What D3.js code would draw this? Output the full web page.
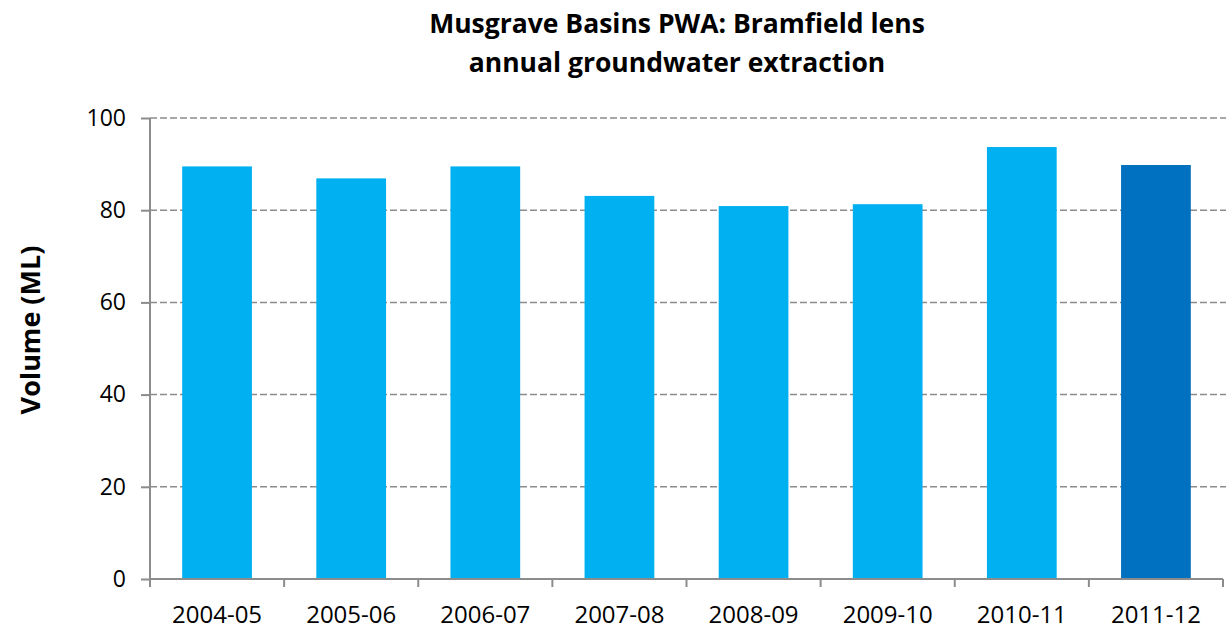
<!DOCTYPE html>
<html>
<head>
<meta charset="utf-8">
<script src="https://cdn.jsdelivr.net/npm/d3@7"></script>
<style>
  body { margin: 0; background: #fff; }
  svg { font-family: "Open Sans", sans-serif; }
</style>
</head>
<body>
<svg id="chart" width="1226" height="630"></svg>
<script>
const categories = ["2004-05", "2005-06", "2006-07", "2007-08", "2008-09", "2009-10", "2010-11", "2011-12"];
const volumes = [89.5, 86.9, 89.5, 83.1, 80.9, 81.3, 93.7, 89.8];
const yTicks = [0, 20, 40, 60, 80, 100];
const titleLines = ["Musgrave Basins PWA: Bramfield lens", "annual groundwater extraction"];

const margin = { top: 118, right: 3, bottom: 51, left: 150 };
const width = 1226, height = 630;

const svg = d3.select("#chart");

const x = d3.scaleBand()
  .domain(categories)
  .range([margin.left, width - margin.right])
  .padding(0);

const y = d3.scaleLinear()
  .domain([0, 100])
  .range([height - margin.bottom, margin.top]);

// dashed gridlines
svg.append("g")
  .selectAll("line")
  .data(yTicks.filter(d => d > 0))
  .join("line")
  .attr("x1", margin.left)
  .attr("x2", width)
  .attr("y1", d => y(d))
  .attr("y2", d => y(d))
  .attr("stroke", "#8c8c8c")
  .attr("stroke-width", 1.5)
  .attr("stroke-dasharray", "7,3");

// bars
const barFrac = 0.52;
svg.append("g")
  .selectAll("rect")
  .data(categories)
  .join("rect")
  .attr("x", d => x(d) + x.bandwidth() * (1 - barFrac) / 2)
  .attr("width", x.bandwidth() * barFrac)
  .attr("y", (d, i) => y(volumes[i]))
  .attr("height", (d, i) => y(0) - y(volumes[i]))
  .attr("fill", (d, i) => i === categories.length - 1 ? "#0070c0" : "#00b0f0");

// y axis
const yAxis = svg.append("g")
  .attr("transform", `translate(${margin.left},0)`)
  .call(d3.axisLeft(y).tickValues(yTicks).tickSize(9).tickPadding(15));
yAxis.select(".domain").attr("stroke", "#8c8c8c").attr("stroke-width", 2)
  .attr("d", `M0,${y(100)}V${y(0)}`);
yAxis.selectAll(".tick line").attr("stroke", "#8c8c8c").attr("stroke-width", 2);
yAxis.selectAll(".tick text")
  .attr("font-family", "Open Sans, sans-serif")
  .attr("font-size", 23)
  .attr("fill", "#000");

// x axis
const xAxis = svg.append("g")
  .attr("transform", `translate(0,${y(0)})`)
  .call(d3.axisBottom(x).tickSize(0).tickPadding(27));
xAxis.select(".domain").attr("stroke", "#8c8c8c").attr("stroke-width", 2)
  .attr("d", `M${margin.left},0H${width - margin.right}`);
xAxis.selectAll(".tick text")
  .attr("font-family", "Open Sans, sans-serif")
  .attr("font-size", 24)
  .attr("fill", "#000");

// x tick marks at band edges
svg.append("g")
  .selectAll("line")
  .data(categories.concat(["end"]))
  .join("line")
  .attr("x1", (d, i) => i < categories.length ? x(d) : x(categories[categories.length - 1]) + x.bandwidth())
  .attr("x2", (d, i) => i < categories.length ? x(d) : x(categories[categories.length - 1]) + x.bandwidth())
  .attr("y1", y(0))
  .attr("y2", y(0) + 8)
  .attr("stroke", "#8c8c8c")
  .attr("stroke-width", 2);

// y axis label
svg.append("text")
  .attr("transform", `translate(40,330) rotate(-90)`)
  .attr("text-anchor", "middle")
  .attr("font-size", 27)
  .attr("font-weight", "bold")
  .text("Volume (ML)");

// title
svg.append("g")
  .selectAll("text")
  .data(titleLines)
  .join("text")
  .attr("x", 677)
  .attr("y", (d, i) => 33 + i * 39)
  .attr("text-anchor", "middle")
  .attr("font-size", 26.5)
  .attr("font-weight", "bold")
  .text(d => d);
</script>
</body>
</html>
